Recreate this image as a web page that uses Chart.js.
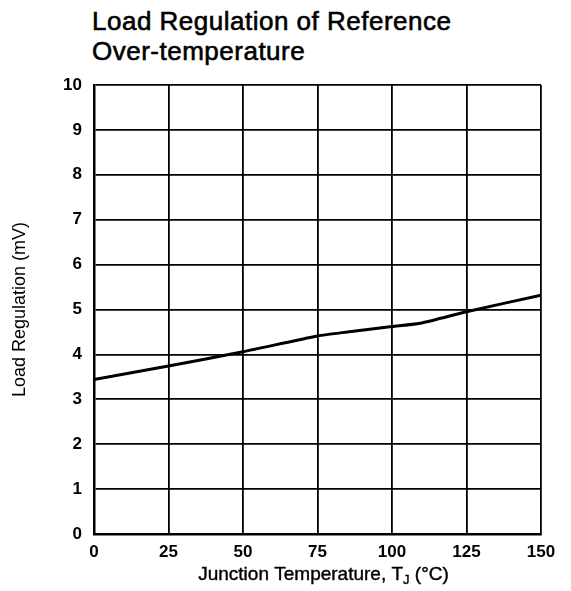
<!DOCTYPE html>
<html>
<head>
<meta charset="utf-8">
<script src="https://cdn.jsdelivr.net/npm/chart.js@4"></script>
<style>
  html, body { margin: 0; padding: 0; background: #fff; }
  #wrap { position: relative; width: 571px; height: 591px; }
  #title {
    position: absolute; left: 92px; top: 6px;
    font-family: "Liberation Sans", Arial, sans-serif;
    font-size: 26px; line-height: 30px; color: #000;
    letter-spacing: 0.5px;
    -webkit-text-stroke: 0.6px #000;
  }
  canvas { position: absolute; left: 0; top: 0; }
</style>
</head>
<body>
<div id="wrap">
  <div id="title">Load Regulation of Reference<br>Over-temperature</div>
  <canvas id="chart" width="571" height="591"></canvas>
</div>
<script>
// Junction temperature (°C) vs load regulation (mV)
const temps = [0, 25, 50, 75, 85, 100, 110, 125, 150];
const loadReg = [3.44, 3.74, 4.06, 4.41, 4.5, 4.62, 4.7, 4.95, 5.32];
const xTicks = [0, 25, 50, 75, 100, 125, 150];
const yTicks = [0, 1, 2, 3, 4, 5, 6, 7, 8, 9, 10];

const font = 'Liberation Sans';

// x axis title with a subscript J on T
const xTitle = {
    id: 'xTitle',
    afterDraw(chart) {
        const ctx = chart.ctx;
        const parts = [
            { t: 'Junction Temperature, T', size: 19, dy: 0 },
            { t: 'J', size: 13, dy: 4 },
            { t: ' (°C)', size: 19, dy: 0 }
        ];
        ctx.save();
        ctx.fillStyle = '#000';
        ctx.strokeStyle = '#000';
        ctx.lineWidth = 0.4;
        ctx.textBaseline = 'alphabetic';
        let total = 0;
        parts.forEach(p => {
            ctx.font = `${p.size}px ${font}`;
            p.w = ctx.measureText(p.t).width;
            total += p.w;
        });
        const area = chart.chartArea;
        let x = (area.left + area.right) / 2 + 6 - total / 2;
        const y = 580;
        parts.forEach(p => {
            ctx.font = `${p.size}px ${font}`;
            ctx.fillText(p.t, x, y + p.dy);
            ctx.strokeText(p.t, x, y + p.dy);
            x += p.w;
        });
        ctx.restore();
    }
};

new Chart(document.getElementById('chart'), {
    type: 'line',
    data: {
        datasets: [{
            data: temps.map((t, i) => ({ x: t, y: loadReg[i] })),
            borderColor: '#000',
            borderWidth: 3,
            pointRadius: 0,
            tension: 0.2
        }]
    },
    plugins: [xTitle],
    options: {
        responsive: false,
        animation: false,
        layout: { padding: { top: 85, right: 30, left: 0, bottom: 0 } },
        plugins: { legend: { display: false }, tooltip: { enabled: false } },
        scales: {
            x: {
                type: 'linear',
                min: 0,
                max: 150,
                afterBuildTicks: s => { s.ticks = xTicks.map(v => ({ value: v })); },
                afterFit: s => { s.height = 57; },
                grid: { color: '#000', lineWidth: 1.8, drawTicks: false },
                border: { color: '#000', width: 2.5 },
                ticks: {
                    color: '#000',
                    padding: 8,
                    maxRotation: 0,
                    font: { family: font, size: 17, weight: 'bold' }
                }
            },
            y: {
                min: 0,
                max: 10,
                afterBuildTicks: s => { s.ticks = yTicks.map(v => ({ value: v })); },
                afterFit: s => { s.width = 94; },
                grid: { color: '#000', lineWidth: 1.8, drawTicks: false },
                border: { color: '#000', width: 2.5 },
                ticks: {
                    color: '#000',
                    padding: 12,
                    font: { family: font, size: 17, weight: 'bold' }
                },
                title: {
                    display: true,
                    text: 'Load Regulation (mV)',
                    color: '#000',
                    padding: { top: 9, bottom: 0 },
                    font: { family: font, size: 18 }
                }
            }
        }
    }
});
</script>
</body>
</html>
